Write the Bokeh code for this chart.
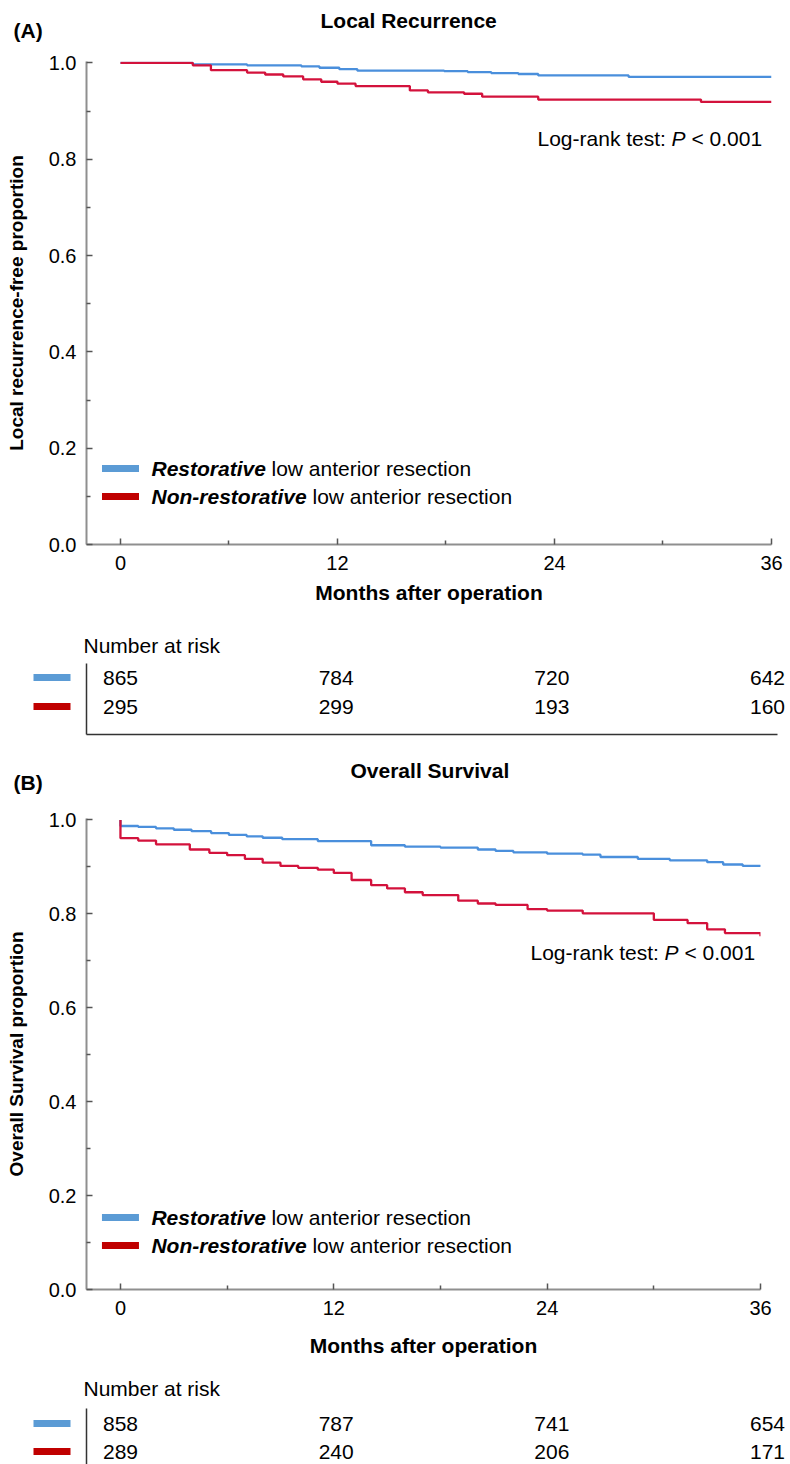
from bokeh.plotting import figure
from bokeh.models import Range1d, FixedTicker, PrintfTickFormatter, Label
from bokeh.embed import file_html
from bokeh.resources import INLINE
from bokeh.core.properties import value

FONT = "Liberation Sans"
BLUE_LINE = "#4a8fdc"
RED_LINE = "#d3123c"
BLUE_KEY = "#5b9bd5"
RED_KEY = "#c00000"
AXIS_GRAY = "#8f8f8f"
TICK_GRAY = "#555555"

# ---------------- data ----------------
x_ticks = [0, 12, 24, 36]
x_minor = [6, 18, 30]
y_ticks = [0.0, 0.2, 0.4, 0.6, 0.8, 1.0]
y_minor = [0.1, 0.3, 0.5, 0.7, 0.9]
risk_times = [0, 12, 24, 36]

group_labels_bold = ["Restorative", "Non-restorative"]
group_labels_rest = ["low anterior resection", "low anterior resection"]

# Panel A: Local recurrence-free proportion
a_res_t = [0, 4.0, 7.0, 10.0, 11.0, 12.1, 13.1, 17.9, 19.2, 20.5, 22.0, 23.1, 28.1, 36.0]
a_res_s = [1.000, 0.997, 0.995, 0.993, 0.990, 0.987, 0.984, 0.983, 0.981, 0.979, 0.977, 0.974, 0.971, 0.971]
a_non_t = [0, 4.0, 5.0, 7.0, 8.0, 9.0, 10.1, 11.1, 12.0, 13.0, 16.0, 17.0, 19.0, 20.0, 23.1, 32.1, 36.0]
a_non_s = [1.000, 0.995, 0.985, 0.980, 0.976, 0.972, 0.966, 0.961, 0.957, 0.952, 0.943, 0.939, 0.936, 0.930, 0.924, 0.919, 0.919]
a_risk_res = [865, 784, 720, 642]
a_risk_non = [295, 299, 193, 160]

# Panel B: Overall survival proportion
b_res_t = [0, 0, 1.0, 2.0, 3.0, 4.0, 5.1, 6.1, 7.1, 8.0, 9.1, 11.1, 14.1, 16.0, 18.0, 20.1, 21.1, 22.1,
           24.0, 26.0, 27.0, 29.1, 30.9, 33.0, 33.9, 35.0, 36.0]
b_res_s = [1.000, 0.987, 0.985, 0.982, 0.979, 0.976, 0.972, 0.968, 0.965, 0.962, 0.959, 0.955, 0.946, 0.943,
           0.941, 0.937, 0.934, 0.931, 0.928, 0.926, 0.921, 0.917, 0.914, 0.910, 0.905, 0.902, 0.900]
b_non_t = [0, 0, 1.0, 2.0, 3.9, 5.0, 6.0, 7.0, 8.0, 9.0, 10.0, 11.1, 12.0, 13.0, 14.1, 15.0, 16.0, 17.0,
           19.0, 20.1, 21.1, 22.9, 24.0, 26.0, 30.0, 31.9, 33.0, 34.0, 36.0, 36.0]
b_non_s = [1.000, 0.961, 0.956, 0.948, 0.937, 0.930, 0.925, 0.917, 0.909, 0.902, 0.898, 0.894, 0.887, 0.872,
           0.861, 0.854, 0.846, 0.840, 0.828, 0.822, 0.819, 0.810, 0.807, 0.801, 0.787, 0.780, 0.767, 0.759,
           0.759, 0.752]
b_risk_res = [858, 787, 741, 654]
b_risk_non = [289, 240, 206, 171]

WIDTH = 790
Y_END = 1.003

# x mapping for the full-width text strips (risk tables / headers)
RK = 17.972           # pixels per month
RX0 = -120 / RK       # data value at left page edge
RX1 = RX0 + WIDTH / RK


def px(xpix):
    """page pixel column -> data x for full-width strips"""
    return RX0 + xpix / RK


def make_km(ylabel, res_t, res_s, non_t, non_s, height, b_top, b_bot, b_right, x_start,
            logrank_py, logrank_dx, legend_py, tick_standoff, xlabel_standoff):
    fh = height - b_top - b_bot
    p = figure(width=WIDTH, height=height, output_backend="svg", toolbar_location=None,
               x_range=Range1d(x_start, 36), y_range=Range1d(0, Y_END),
               min_border_left=86, min_border_right=b_right, min_border_top=b_top,
               min_border_bottom=b_bot)
    p.outline_line_color = None
    p.grid.grid_line_color = None
    p.background_fill_color = "white"

    def yd(py):  # pixel row (relative to figure top) -> data y
        return (b_top + fh - py) / fh * Y_END

    p.xaxis.ticker = FixedTicker(ticks=x_ticks, minor_ticks=x_minor)
    p.yaxis.ticker = FixedTicker(ticks=y_ticks, minor_ticks=y_minor)
    p.yaxis.formatter = PrintfTickFormatter(format="%.1f")
    for ax in p.axis:
        ax.axis_line_color = AXIS_GRAY
        ax.axis_line_width = 2
        ax.major_tick_line_color = TICK_GRAY
        ax.major_tick_line_width = 1.5
        ax.major_tick_in = 6
        ax.major_tick_out = 0
        ax.minor_tick_line_color = TICK_GRAY
        ax.minor_tick_line_width = 1.5
        ax.minor_tick_in = 4
        ax.minor_tick_out = 0
        ax.major_label_text_font = FONT
        ax.major_label_text_font_size = "20px"
        ax.major_label_text_color = "black"
        ax.axis_label_text_font = FONT
        ax.axis_label_text_font_style = "bold"
        ax.axis_label_text_color = "black"
    p.xaxis.axis_label = "Months after operation"
    p.xaxis.axis_label_text_font_size = "21px"
    p.xaxis.major_label_standoff = tick_standoff
    p.xaxis.axis_label_standoff = xlabel_standoff
    p.yaxis.axis_label = ylabel
    p.yaxis.axis_label_text_font_size = "19px"
    p.yaxis.major_label_standoff = 10
    p.yaxis.axis_label_standoff = 19

    p.step(res_t, res_s, mode="after", line_color=BLUE_LINE, line_width=2.3)
    p.step(non_t, non_s, mode="after", line_color=RED_LINE, line_width=2.3)

    # log-rank text
    ly = yd(logrank_py)
    for txt, dx, style in [("Log-rank test:", 0, "normal"), ("P", 134, "italic"), ("< 0.001", 154, "normal")]:
        p.add_layout(Label(x=36, y=ly, x_offset=logrank_dx + dx, text=txt, text_font=FONT,
                           text_font_size="21px", text_font_style=style, text_baseline="middle",
                           text_align="left", text_color="black"))

    # legend
    for i, (col, bold, rest, off) in enumerate(zip([BLUE_KEY, RED_KEY], group_labels_bold,
                                                  group_labels_rest, [120, 161])):
        yy = yd(legend_py + 28 * i)
        p.rect(x=[0], y=[yy], width=37, height=7, width_units="screen", height_units="screen",
               fill_color=col, line_color=None)
        p.add_layout(Label(x=0, y=yy, x_offset=31, text=bold, text_font=FONT, text_font_size="21px",
                           text_font_style="bold italic", text_baseline="middle", text_color="black"))
        p.add_layout(Label(x=0, y=yy, x_offset=31 + off, text=rest, text_font=FONT, text_font_size="21px",
                           text_font_style="normal", text_baseline="middle", text_color="black"))
    return p


def strip(height):
    r = figure(width=WIDTH, height=height, output_backend="svg", toolbar_location=None,
               x_range=Range1d(RX0, RX1), y_range=Range1d(height, 0), min_border=0,
               min_border_left=0, min_border_right=0, min_border_top=0, min_border_bottom=0,
               x_axis_type=None, y_axis_type=None)
    r.outline_line_color = None
    r.grid.grid_line_color = None
    return r


def add_header(r, letter, title, letter_xy, title_xy):
    r.text(x=[px(letter_xy[0])], y=[letter_xy[1]], text=["(" + letter + ")"], text_align="left",
           text_baseline="middle", text_font=value(FONT), text_font_size="21px", text_font_style="bold",
           text_color="black")
    r.text(x=[px(title_xy[0])], y=[title_xy[1]], text=[title], text_align="left",
           text_baseline="middle", text_font=value(FONT), text_font_size="21px", text_font_style="bold",
           text_color="black")


def add_risk(r, rows_py, title_py, vline, hline, res_vals, non_vals):
    r.text(x=[px(83)], y=[title_py], text=["Number at risk"], text_align="left", text_baseline="middle",
           text_font=value(FONT), text_font_size="21px", text_color="black")
    for vals, yy, col in [(res_vals, rows_py[0], BLUE_KEY), (non_vals, rows_py[1], RED_KEY)]:
        r.text(x=risk_times, y=[yy] * len(vals), text=[str(v) for v in vals], text_align="center",
               text_baseline="middle", text_font=value(FONT), text_font_size="21px", text_color="black")
        r.rect(x=[px(51.5)], y=[yy], width=37, height=7, width_units="screen", height_units="screen",
               fill_color=col, line_color=None)
    r.segment(x0=[px(86)], y0=[vline[0]], x1=[px(86)], y1=[vline[1]], line_color="#333333", line_width=1.5)
    if hline is not None:
        r.segment(x0=[px(86)], y0=[hline], x1=[px(777)], y1=[hline], line_color="#333333", line_width=1.5)


# header A  (page rows 0-45)
ha = strip(45)
add_header(ha, "A", "Local Recurrence", (13, 29.5), (320, 20))

# KM A  (page rows 45-620)
fa = make_km("Local recurrence-free proportion", a_res_t, a_res_s, a_non_t, a_non_s,
             height=575, b_top=16, b_bot=76, b_right=19, x_start=-1.88,
             logrank_py=93, logrank_dx=-234, legend_py=423, tick_standoff=11, xlabel_standoff=8)

# risk table A + header B  (page rows 620-795)
ra = strip(175)
add_risk(ra, [57, 86], 25, (43, 114), 114, a_risk_res, a_risk_non)
add_header(ra, "B", "Overall Survival", (13, 162), (350, 150))

# KM B  (page rows 795-1375)
fb = make_km("Overall Survival proportion", b_res_t, b_res_s, b_non_t, b_non_s,
             height=580, b_top=23, b_bot=86, b_right=30, x_start=-1.91,
             logrank_py=157, logrank_dx=-230, legend_py=422, tick_standoff=11, xlabel_standoff=16)

# risk table B  (page rows 1375-1464)
rb = strip(89)
add_risk(rb, [48, 76], 13, (33, 89), None, b_risk_res, b_risk_non)

open("out.html", "w").write(file_html([ha, fa, ra, fb, rb], INLINE))
